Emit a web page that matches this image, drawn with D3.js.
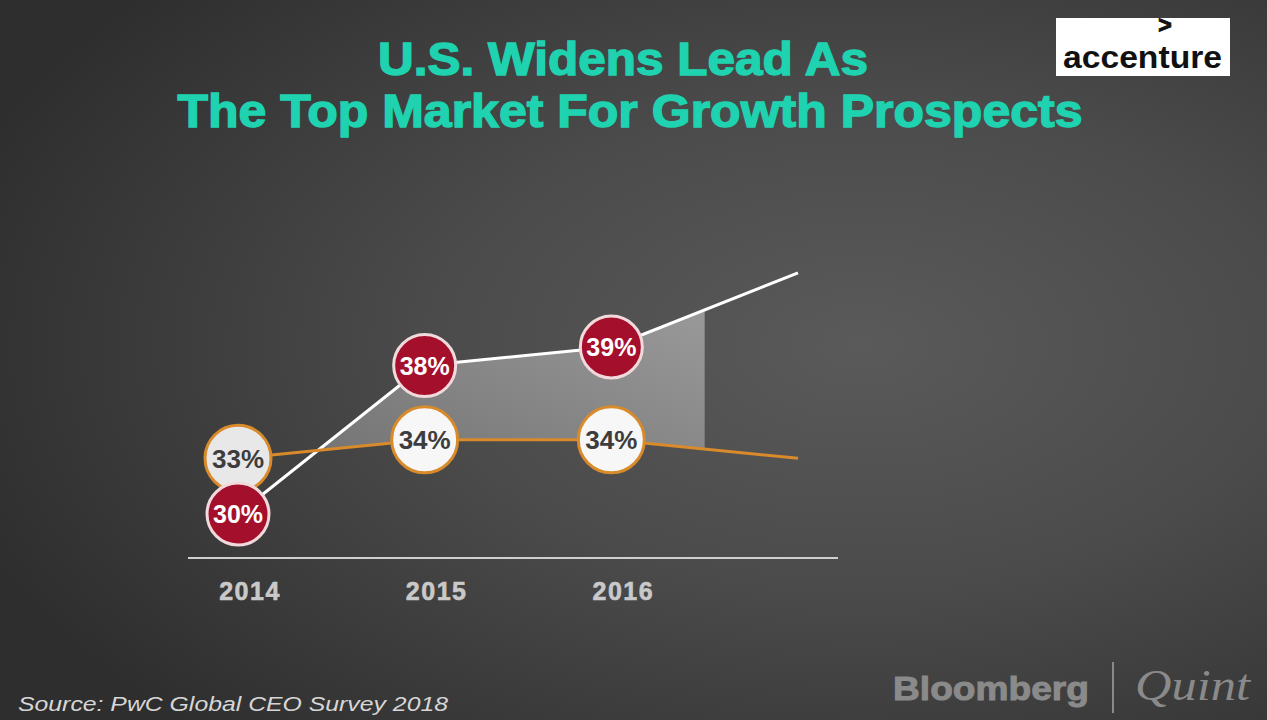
<!DOCTYPE html>
<html>
<head>
<meta charset="utf-8">
<script src="https://cdn.jsdelivr.net/npm/d3@7"></script>
<style>
  html, body { margin: 0; padding: 0; background: #2e2e2e; }
  svg { display: block; }
</style>
</head>
<body>
<div id="chart"></div>
<script>
const WIDTH = 1267;
const HEIGHT = 720;

// values; the 4th point has no year label
const years = ['2014', '2015', '2016', ''];
const usValues = [30, 38, 39, 43];
const otherValues = [33, 34, 34, 33];
const usLabels = ['30%', '38%', '39%'];
const otherLabels = ['33%', '34%', '34%'];
const tickLabels = ['2014', '2015', '2016'];

const svg = d3.select('#chart').append('svg')
    .attr('width', WIDTH)
    .attr('height', HEIGHT);

const defs = svg.append('defs');

const bg = defs.append('radialGradient')
    .attr('id', 'bg')
    .attr('cx', 0.68).attr('cy', 0.48).attr('r', 0.75);
bg.append('stop').attr('offset', '0%').attr('stop-color', '#5a5a5a');
bg.append('stop').attr('offset', '45%').attr('stop-color', '#4b4b4b');
bg.append('stop').attr('offset', '100%').attr('stop-color', '#2e2e2e');

const shade = defs.append('linearGradient')
    .attr('id', 'shade')
    .attr('x1', 0).attr('y1', 1).attr('x2', 1).attr('y2', 0);
shade.append('stop').attr('offset', '0%').attr('stop-color', '#6a6a6a');
shade.append('stop').attr('offset', '100%').attr('stop-color', '#a2a2a2');

svg.append('rect')
    .attr('width', WIDTH)
    .attr('height', HEIGHT)
    .attr('fill', 'url(#bg)');

const x = d3.scaleLinear()
    .domain([0, years.length - 1])
    .range([238, 798]);

const y = d3.scaleLinear()
    .domain([30, 39])
    .range([514, 347]);

// shaded gap between the two lines, from where they cross to halfway past 2016
const d0 = otherValues[0] - usValues[0];
const d1 = otherValues[1] - usValues[1];
const crossT = d0 / (d0 - d1);

defs.append('clipPath')
    .attr('id', 'gapClip')
    .append('rect')
    .attr('x', x(crossT))
    .attr('y', 0)
    .attr('width', x(2.5) - x(crossT))
    .attr('height', HEIGHT);

const area = d3.area()
    .x((d, i) => x(i))
    .y0((d, i) => y(otherValues[i]))
    .y1(d => y(d));

svg.append('path')
    .datum(usValues)
    .attr('d', area)
    .attr('fill', 'url(#shade)')
    .attr('clip-path', 'url(#gapClip)');

// baseline
svg.append('line')
    .attr('x1', 188).attr('x2', 838)
    .attr('y1', 558).attr('y2', 558)
    .attr('stroke', '#cfcfcf')
    .attr('stroke-width', 2);

const line = d3.line()
    .x((d, i) => x(i))
    .y(d => y(d));

svg.append('path')
    .datum(usValues)
    .attr('d', line)
    .attr('fill', 'none')
    .attr('stroke', '#ffffff')
    .attr('stroke-width', 3);

svg.append('path')
    .datum(otherValues)
    .attr('d', line)
    .attr('fill', 'none')
    .attr('stroke', '#d98a2b')
    .attr('stroke-width', 3);

// orange series markers
const otherDots = svg.append('g')
    .selectAll('g')
    .data(otherLabels)
    .join('g')
    .attr('transform', (d, i) => `translate(${x(i)},${y(otherValues[i])})`);

otherDots.append('circle')
    .attr('r', 33)
    .attr('fill', (d, i) => i === 0 ? '#e8e8e8' : '#f7f7f7')
    .attr('stroke', '#d98a2b')
    .attr('stroke-width', 3);

otherDots.append('text')
    .attr('text-anchor', 'middle')
    .attr('dy', '0.36em')
    .style('font-family', 'Liberation Sans, Arial, sans-serif')
    .style('font-weight', 'bold')
    .style('font-size', '26px')
    .style('fill', '#3d3d3d')
    .text(d => d);

// red series markers
const usDots = svg.append('g')
    .selectAll('g')
    .data(usLabels)
    .join('g')
    .attr('transform', (d, i) => `translate(${x(i)},${y(usValues[i])})`);

usDots.append('circle')
    .attr('r', 31)
    .attr('fill', '#a4102c')
    .attr('stroke', '#f2d9dc')
    .attr('stroke-width', 3);

usDots.append('text')
    .attr('text-anchor', 'middle')
    .attr('dy', '0.36em')
    .style('font-family', 'Liberation Sans, Arial, sans-serif')
    .style('font-weight', 'bold')
    .style('font-size', '25px')
    .style('fill', '#ffffff')
    .text(d => d);

// year labels
svg.append('g')
    .selectAll('text')
    .data(tickLabels)
    .join('text')
    .attr('x', (d, i) => x(i) + 12)
    .attr('y', 600)
    .attr('text-anchor', 'middle')
    .style('font-family', 'Liberation Sans, Arial, sans-serif')
    .style('font-weight', 'bold')
    .style('font-size', '25px')
    .style('letter-spacing', '1.5px')
    .style('fill', '#c9c9c9')
    .style('stroke', '#c9c9c9')
    .style('stroke-width', '0.6px')
    .text(d => d);

// title
const titleLines = ['U.S. Widens Lead As', 'The Top Market For Growth Prospects'];
const titleWidths = [490, 905];
svg.append('g')
    .selectAll('text')
    .data(titleLines)
    .join('text')
    .attr('x', (d, i) => i === 0 ? 623 : 630)
    .attr('y', (d, i) => 75 + i * 52)
    .attr('text-anchor', 'middle')
    .attr('textLength', (d, i) => titleWidths[i])
    .attr('lengthAdjust', 'spacingAndGlyphs')
    .style('font-family', 'Liberation Sans, Arial, sans-serif')
    .style('font-weight', 'bold')
    .style('font-size', '46px')
    .style('fill', '#1fd2b0')
    .style('stroke', '#1fd2b0')
    .style('stroke-width', '1.4px')
    .text(d => d);

// accenture logo
svg.append('rect')
    .attr('x', 1056).attr('y', 18)
    .attr('width', 174).attr('height', 58)
    .attr('fill', '#ffffff');

svg.append('text')
    .attr('x', 1165).attr('y', 33)
    .attr('text-anchor', 'middle')
    .style('font-family', 'Liberation Sans, Arial, sans-serif')
    .style('font-weight', 'bold')
    .style('font-size', '23px')
    .style('fill', '#111')
    .style('stroke', '#111')
    .style('stroke-width', '1px')
    .text('>');

svg.append('text')
    .attr('x', 1063).attr('y', 68)
    .attr('textLength', 159)
    .attr('lengthAdjust', 'spacingAndGlyphs')
    .style('font-family', 'Liberation Sans, Arial, sans-serif')
    .style('font-weight', 'bold')
    .style('font-size', '32px')
    .style('fill', '#111')
    .text('accenture');

// source note
svg.append('text')
    .attr('x', 18).attr('y', 711)
    .attr('textLength', 430)
    .attr('lengthAdjust', 'spacingAndGlyphs')
    .style('font-family', 'Liberation Sans, Arial, sans-serif')
    .style('font-style', 'italic')
    .style('font-size', '20px')
    .style('fill', '#d6d6d6')
    .text('Source: PwC Global CEO Survey 2018');

// Bloomberg | Quint wordmark
svg.append('text')
    .attr('x', 893).attr('y', 700)
    .attr('textLength', 196)
    .attr('lengthAdjust', 'spacingAndGlyphs')
    .style('font-family', 'Liberation Sans, Arial, sans-serif')
    .style('font-weight', 'bold')
    .style('font-size', '34px')
    .style('fill', '#8a8a8a')
    .style('stroke', '#8a8a8a')
    .style('stroke-width', '1px')
    .text('Bloomberg');

svg.append('line')
    .attr('x1', 1113).attr('x2', 1113)
    .attr('y1', 662).attr('y2', 713)
    .attr('stroke', '#8a8a8a')
    .attr('stroke-width', 2);

svg.append('text')
    .attr('x', 1135).attr('y', 700)
    .attr('textLength', 115)
    .attr('lengthAdjust', 'spacingAndGlyphs')
    .style('font-family', 'Liberation Serif, Times New Roman, serif')
    .style('font-style', 'italic')
    .style('font-size', '44px')
    .style('fill', '#8a8a8a')
    .text('Quint');
</script>
</body>
</html>
